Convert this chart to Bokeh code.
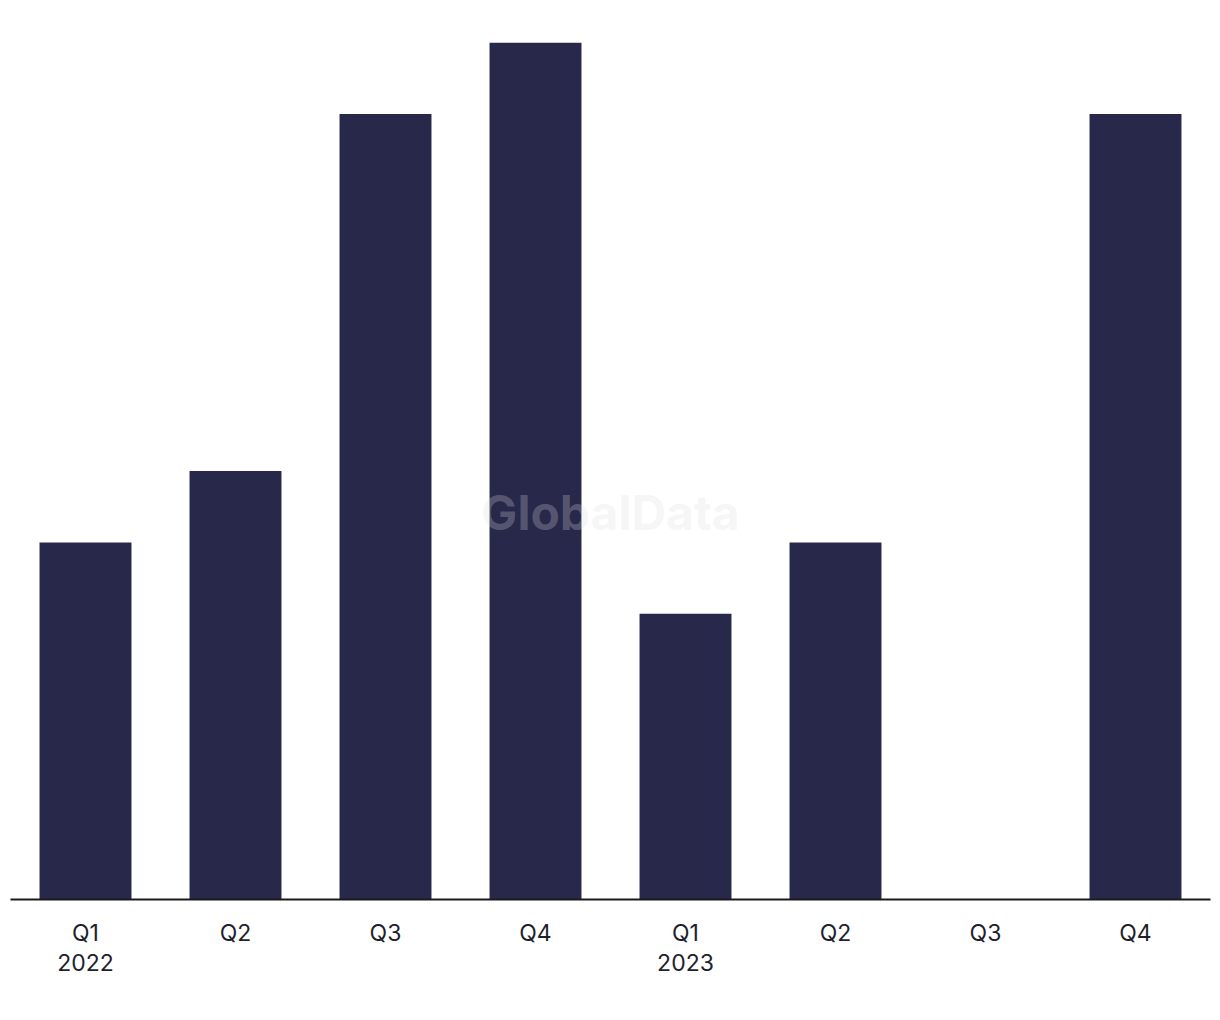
from bokeh.plotting import figure
from bokeh.models import Range1d, Label, FixedTicker
from bokeh.embed import file_html
from bokeh.resources import INLINE

quarters = ["Q1", "Q2", "Q3", "Q4", "Q1", "Q2", "Q3", "Q4"]
years = ["2022", "", "", "", "2023", "", "", ""]
values = [5, 6, 11, 12, 4, 5, 0, 11]

xs = list(range(len(quarters)))
labels = {i: (q + ("\n" + y if y else "")) for i, q, y in zip(xs, quarters, years)}

p = figure(width=1220, height=1010, x_range=Range1d(-0.5, len(xs) - 0.5),
           y_range=Range1d(0, 12), output_backend="svg", toolbar_location=None,
           min_border_left=10, min_border_right=10, min_border_top=42, min_border_bottom=111)
p.outline_line_color = None
p.grid.visible = False
p.yaxis.visible = False

p.vbar(x=xs, top=values, width=0.613, color="#28284b", line_color=None)

ax = p.xaxis[0]
ax.ticker = FixedTicker(ticks=xs)
ax.major_label_overrides = labels
ax.major_tick_line_color = None
ax.minor_tick_line_color = None
ax.axis_line_color = "#1a1a1a"
ax.axis_line_width = 2
ax.major_label_text_font = "Inter"
ax.major_label_text_font_size = "23px"
ax.major_label_text_color = "#1f1f2e"
ax.major_label_standoff = 13
ax.major_label_text_line_height = 1.08

p.add_layout(Label(x=600, y=387, x_units="screen", y_units="screen", text="GlobalData",
                   text_font="Inter", text_font_size="48px", text_font_style="bold",
                   text_color="#dcdcdc", text_alpha=0.25, text_align="center",
                   text_baseline="middle"))

open("out.html", "w").write(file_html(p, INLINE))
